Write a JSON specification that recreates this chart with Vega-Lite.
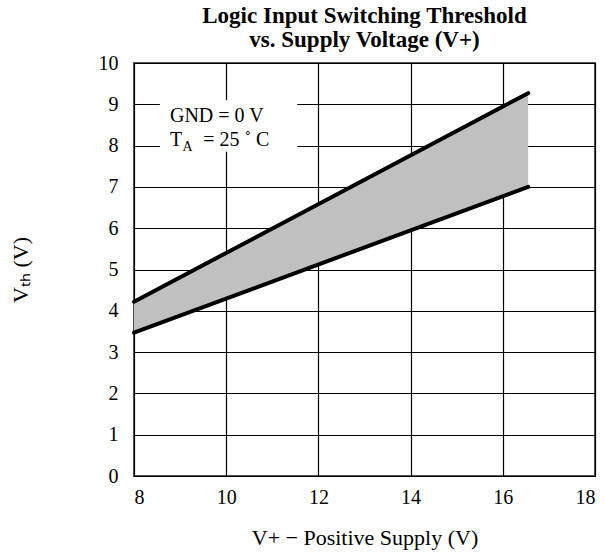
{
  "$schema": "https://vega.github.io/schema/vega-lite/v6.json",
  "autosize": {"type": "none"},
  "width": 461,
  "height": 413,
  "padding": {"left": 134, "top": 63, "right": 9, "bottom": 76},
  "background": "white",
  "title": {
    "text": ["Logic Input Switching Threshold", "vs. Supply Voltage (V+)"],
    "font": "Liberation Serif",
    "fontSize": 23,
    "fontWeight": "bold",
    "color": "black",
    "lineHeight": 24,
    "anchor": "middle",
    "offset": 1
  },
  "config": {
    "view": {"stroke": "#555555", "strokeWidth": 2},
    "axis": {
      "labelFont": "Liberation Serif",
      "labelFontSize": 20,
      "labelColor": "black",
      "titleFont": "Liberation Serif",
      "titleFontSize": 22,
      "titleFontWeight": "normal",
      "titleColor": "black",
      "ticks": false,
      "domain": false,
      "grid": true,
      "gridColor": "black",
      "gridWidth": 1.2,
      "gridOpacity": 1
    }
  },
  "datasets": {
    "bands": [
      {"v": 8, "lo": 3.47, "hi": 4.22},
      {"v": 16.55, "lo": 7.0, "hi": 9.27}
    ],
    "box": [{"x1": 8.56, "x2": 11.54, "y1": 7.85, "y2": 9.1}]
  },
  "layer": [
    {
      "data": {"name": "bands"},
      "mark": {"type": "area", "color": "#c0c0c0", "opacity": 1},
      "encoding": {
        "x": {"field": "v", "type": "quantitative", "scale": {"domain": [8, 18], "nice": false},
              "axis": {"values": [8, 10, 12, 14, 16, 18], "labelPadding": 11, "title": "V+ − Positive Supply (V)", "titlePadding": 20}},
        "y": {"field": "hi", "type": "quantitative", "scale": {"domain": [0, 10], "nice": false},
              "axis": {"values": [0, 1, 2, 3, 4, 5, 6, 7, 8, 9, 10], "labelPadding": 16, "title": "Vₜₕ (V)", "titlePadding": 66}},
        "y2": {"field": "lo"}
      }
    },
    {
      "data": {"name": "bands"},
      "mark": {"type": "line", "color": "black", "strokeWidth": 4, "strokeCap": "round"},
      "encoding": {
        "x": {"field": "v", "type": "quantitative"},
        "y": {"field": "hi", "type": "quantitative"}
      }
    },
    {
      "data": {"name": "bands"},
      "mark": {"type": "line", "color": "black", "strokeWidth": 4, "strokeCap": "round"},
      "encoding": {
        "x": {"field": "v", "type": "quantitative"},
        "y": {"field": "lo", "type": "quantitative"}
      }
    },
    {
      "data": {"name": "box"},
      "mark": {"type": "rect", "color": "white", "opacity": 1},
      "encoding": {
        "x": {"field": "x1", "type": "quantitative"},
        "x2": {"field": "x2"},
        "y": {"field": "y1", "type": "quantitative"},
        "y2": {"field": "y2"}
      }
    },
    {
      "data": {"values": [{}]},
      "mark": {"type": "text", "font": "Liberation Serif", "fontSize": 20, "align": "left", "baseline": "middle", "color": "black"},
      "encoding": {
        "x": {"datum": 8.78, "type": "quantitative"},
        "y": {"datum": 8.72, "type": "quantitative"},
        "text": {"value": "GND = 0 V"}
      }
    },
    {
      "data": {"values": [{}]},
      "mark": {"type": "text", "font": "Liberation Serif", "fontSize": 20, "align": "left", "baseline": "middle", "color": "black"},
      "encoding": {
        "x": {"datum": 8.78, "type": "quantitative"},
        "y": {"datum": 8.13, "type": "quantitative"},
        "text": {"value": "T"}
      }
    },
    {
      "data": {"values": [{}]},
      "mark": {"type": "text", "font": "Liberation Serif", "fontSize": 14, "align": "left", "baseline": "middle", "color": "black"},
      "encoding": {
        "x": {"datum": 9.05, "type": "quantitative"},
        "y": {"datum": 7.96, "type": "quantitative"},
        "text": {"value": "A"}
      }
    },
    {
      "data": {"values": [{}]},
      "mark": {"type": "text", "font": "Liberation Serif", "fontSize": 20, "align": "left", "baseline": "middle", "color": "black"},
      "encoding": {
        "x": {"datum": 9.5, "type": "quantitative"},
        "y": {"datum": 8.13, "type": "quantitative"},
        "text": {"value": "= 25 ˚ C"}
      }
    }
  ]
}
